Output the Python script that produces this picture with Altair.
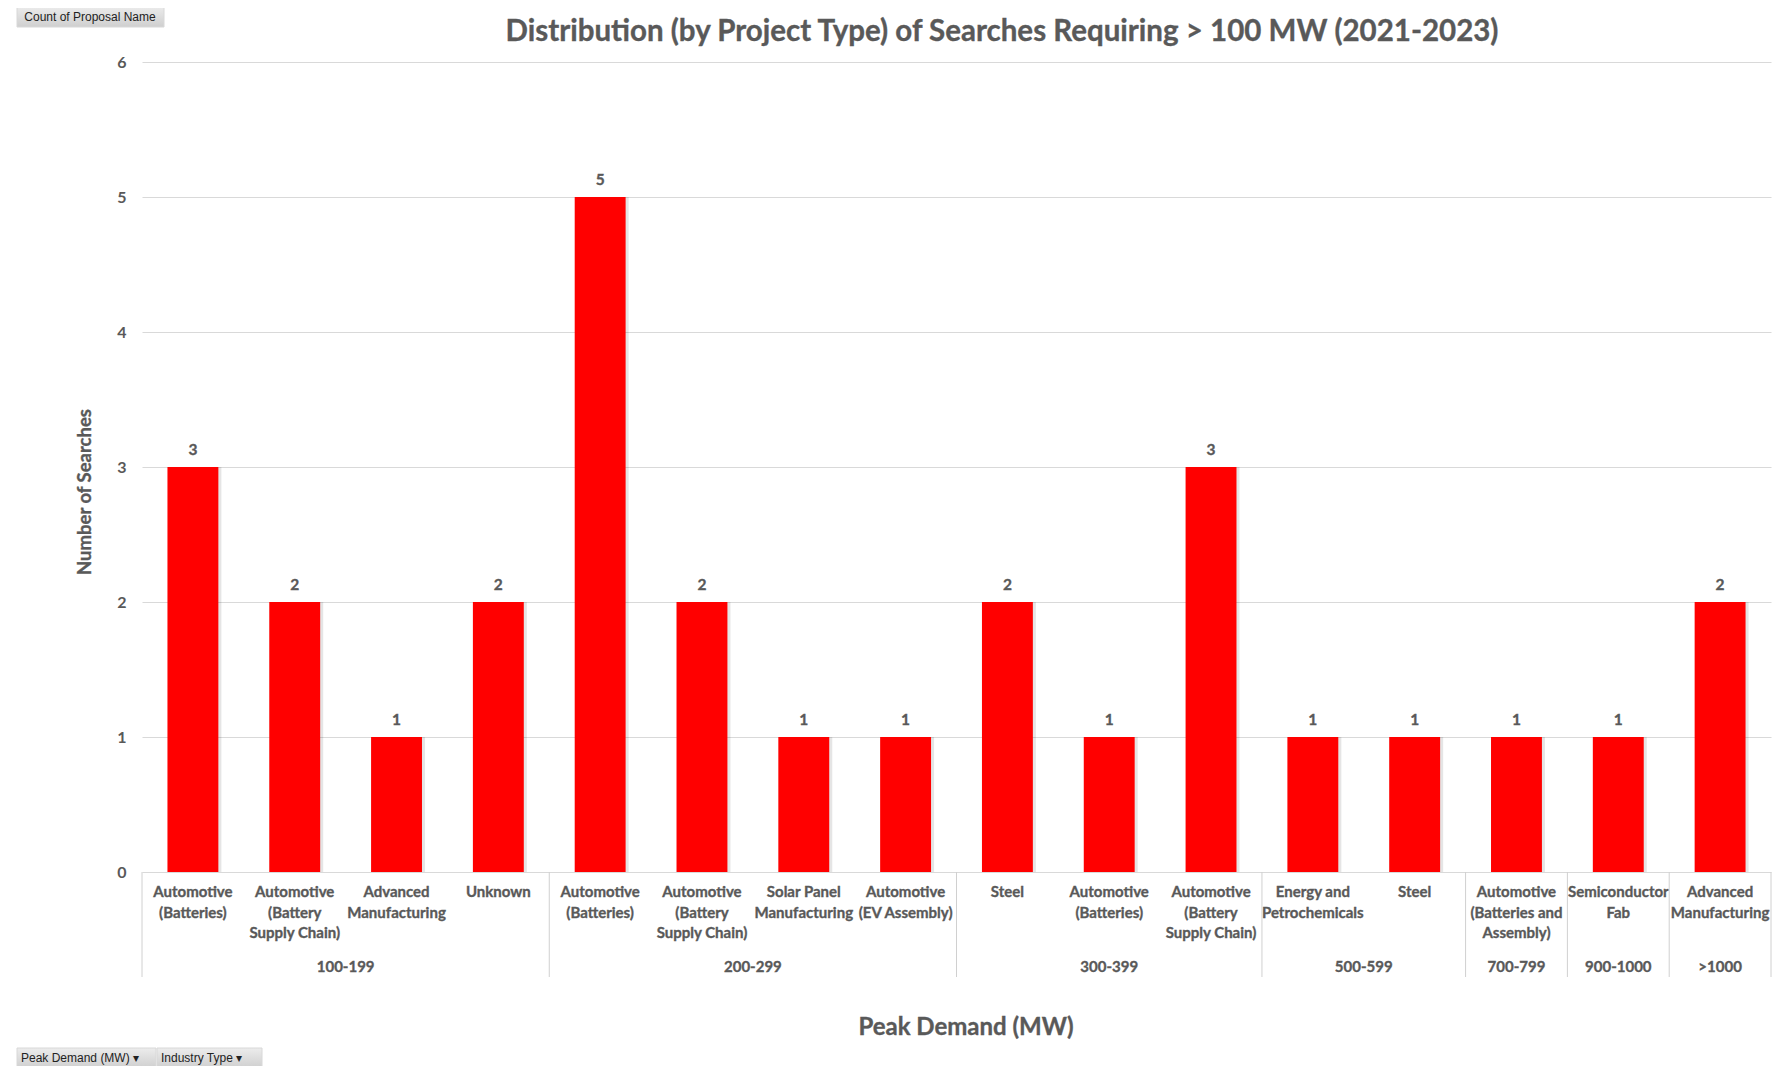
import altair as alt
import pandas as pd

# ---- data ----
groups = ["100-199", "100-199", "100-199", "100-199",
          "200-299", "200-299", "200-299", "200-299",
          "300-399", "300-399", "300-399",
          "500-599", "500-599",
          "700-799", "900-1000", ">1000"]
industries = ["Automotive\n(Batteries)", "Automotive\n(Battery\nSupply Chain)", "Advanced\nManufacturing", "Unknown",
              "Automotive\n(Batteries)", "Automotive\n(Battery\nSupply Chain)", "Solar Panel\nManufacturing", "Automotive\n(EV Assembly)",
              "Steel", "Automotive\n(Batteries)", "Automotive\n(Battery\nSupply Chain)",
              "Energy and\nPetrochemicals", "Steel",
              "Automotive\n(Batteries and\nAssembly)", "Semiconductor\nFab", "Advanced\nManufacturing"]
counts = [3, 2, 1, 2, 5, 2, 1, 1, 2, 1, 3, 1, 1, 1, 1, 2]
y_ticks = [0, 1, 2, 3, 4, 5, 6]

title_text = "Distribution (by Project Type) of Searches Requiring > 100 MW (2021-2023)"
y_title = "Number of Searches"
x_title = "Peak Demand (MW)"
top_button = "Count of Proposal Name"
bottom_buttons = ["Peak Demand (MW)  \u25BE", "Industry Type  \u25BE"]

# ---- tables ----
bars_df = pd.DataFrame({"idx": list(range(len(counts))), "group": groups,
                        "industry": industries, "count": counts})
group_order = []
for g in groups:
    if g not in group_order:
        group_order.append(g)
grp_rows = []
for g in group_order:
    ids = [i for i, gg in enumerate(groups) if gg == g]
    grp_rows.append({"group": g, "start": min(ids), "end": max(ids) + 1})
grp_df = pd.DataFrame(grp_rows)
bounds_df = pd.DataFrame({"b": list(grp_df["start"]) + [len(counts)]})

W, H = 1629, 810
FONT = "Lato, Open Sans, sans-serif"
UIFONT = "Liberation Sans, Arial, sans-serif"
GREY = "#595959"
TXT = dict(font=FONT, fontWeight="bold", color=GREY, stroke=GREY, strokeWidth=0.35)

x_scale = alt.Scale(domain=[0, len(counts)], nice=False, zero=False)
y_scale = alt.Scale(domain=[0, 6], nice=False)

base = alt.Chart(bars_df).transform_calculate(
    x0="datum.idx + 0.25", x1="datum.idx + 0.75", xc="datum.idx + 0.5")

bars = base.mark_rect(color="#FF0000").encode(
    x=alt.X("x0:Q", scale=x_scale, axis=None),
    x2="x1:Q",
    y=alt.Y("count:Q", scale=y_scale, title=None,
            axis=alt.Axis(values=y_ticks, format="d", grid=True, gridColor="#d9d9d9",
                          domain=False, ticks=False, labelPadding=16,
                          labelFont=FONT, labelFontSize=16, labelFontWeight="bold",
                          labelColor=GREY)),
    y2=alt.datum(0),
)

shadow = base.mark_rect(color="#000000", opacity=0.10).encode(
    x=alt.X("x0s:Q", scale=x_scale, axis=None),
    x2="x1s:Q",
    y=alt.Y("count:Q", scale=y_scale, title=None),
    y2=alt.datum(0),
).transform_calculate(x0s="datum.x0 + 0.01", x1s="datum.x1 + 0.03")

values = base.mark_text(fontSize=15.5, baseline="middle", dy=-17, **TXT).encode(
    x=alt.X("xc:Q", scale=x_scale, axis=None),
    y=alt.Y("count:Q", scale=y_scale, title=None),
    text="count:Q",
)

cat_labels = base.mark_text(fontSize=15, baseline="top", align="center", lineBreak="\n",
                            lineHeight=20.5, **TXT).encode(
    x=alt.X("xc:Q", scale=x_scale, axis=None),
    y=alt.value(H + 13),
    text="industry:N",
)

grp_labels = alt.Chart(grp_df).transform_calculate(
    xm="(datum.start + datum.end) / 2").mark_text(
    fontSize=15, baseline="middle", **TXT).encode(
    x=alt.X("xm:Q", scale=x_scale, axis=None),
    y=alt.value(H + 95),
    text="group:N",
)

seps = alt.Chart(bounds_df).mark_rule(color="#d0d0d0", strokeWidth=1).encode(
    x=alt.X("b:Q", scale=x_scale, axis=None),
    y=alt.value(H),
    y2=alt.value(H + 105),
)

title = alt.Chart(pd.DataFrame({"t": [title_text]})).mark_text(
    fontSize=29.5, baseline="middle", align="center", **TXT).encode(
    x=alt.value(860), y=alt.value(-30), text="t:N")

ytitle = alt.Chart(pd.DataFrame({"t": [y_title]})).mark_text(
    fontSize=18.5, baseline="middle", align="center", angle=270, **TXT).encode(
    x=alt.value(-57), y=alt.value(430), text="t:N")

xtitle = alt.Chart(pd.DataFrame({"t": [x_title]})).mark_text(
    fontSize=24, baseline="middle", align="center", **TXT).encode(
    x=alt.value(824), y=alt.value(966), text="t:N")

btn_grad = alt.Gradient(gradient="linear", x1=0, y1=0, x2=0, y2=1,
                        stops=[alt.GradientStop(color="#ececec", offset=0),
                               alt.GradientStop(color="#cfcfcf", offset=1)])

top_btn_rect = alt.Chart(pd.DataFrame({"t": [top_button]})).mark_rect(
    color=btn_grad, stroke="#d8d8d8").encode(
    x=alt.value(-125), x2=alt.value(22), y=alt.value(-56), y2=alt.value(-35))
top_btn_text = alt.Chart(pd.DataFrame({"t": [top_button]})).mark_text(
    font=UIFONT, fontSize=12, color="#222222", baseline="middle", align="center").encode(
    x=alt.value(-52), y=alt.value(-45), text="t:N")

bb1_rect = alt.Chart(pd.DataFrame({"t": [bottom_buttons[0]]})).mark_rect(
    color=btn_grad, stroke="#d8d8d8").encode(
    x=alt.value(-125), x2=alt.value(14), y=alt.value(986), y2=alt.value(1006))
bb2_rect = alt.Chart(pd.DataFrame({"t": [bottom_buttons[1]]})).mark_rect(
    color=btn_grad, stroke="#d8d8d8").encode(
    x=alt.value(15), x2=alt.value(120), y=alt.value(986), y2=alt.value(1006))
bb1_text = alt.Chart(pd.DataFrame({"t": [bottom_buttons[0]]})).mark_text(
    font=UIFONT, fontSize=12, color="#222222", baseline="middle", align="left").encode(
    x=alt.value(-121), y=alt.value(996), text="t:N")
bb2_text = alt.Chart(pd.DataFrame({"t": [bottom_buttons[1]]})).mark_text(
    font=UIFONT, fontSize=12, color="#222222", baseline="middle", align="left").encode(
    x=alt.value(19), y=alt.value(996), text="t:N")

chart = alt.layer(
    shadow, bars, values, cat_labels, grp_labels, seps, title, ytitle, xtitle,
    top_btn_rect, top_btn_text, bb1_rect, bb2_rect, bb1_text, bb2_text
).properties(
    width=W, height=H,
    autosize=alt.AutoSizeParams(type="none"),
    padding={"left": 134, "top": 54, "right": 3, "bottom": 194},
).configure_view(stroke=None)

chart.save("out.html", embed_options={"renderer": "svg", "actions": False})
